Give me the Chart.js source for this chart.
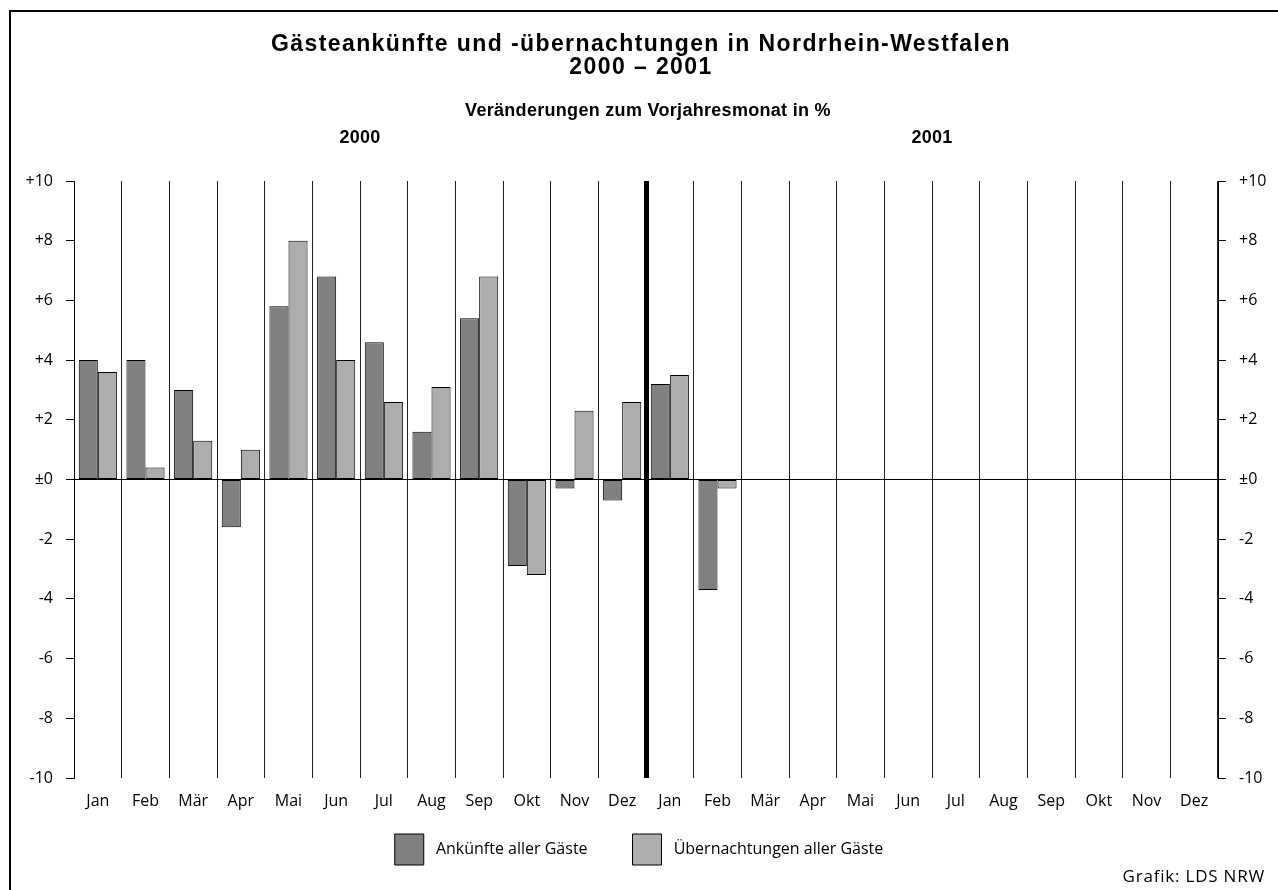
<!DOCTYPE html>
<html>
<head>
<meta charset="utf-8">
<script src="https://cdn.jsdelivr.net/npm/chart.js@4"></script>
<style>
  html, body { margin: 0; padding: 0; background: #fff; }
  #wrap { width: 1278px; height: 890px; position: relative; }
</style>
</head>
<body>
<div id="wrap"><canvas id="gaesteChart" width="1278" height="890"></canvas></div>
<script>
const months = ["Jan", "Feb", "Mär", "Apr", "Mai", "Jun", "Jul", "Aug", "Sep", "Okt", "Nov", "Dez",
                "Jan", "Feb", "Mär", "Apr", "Mai", "Jun", "Jul", "Aug", "Sep", "Okt", "Nov", "Dez"];
const years = ["2000", "2001"];
const ankuenfte = [4.0, 4.0, 3.0, -1.6, 5.8, 6.8, 4.6, 1.6, 5.4, -2.9, -0.3, -0.7,
                   3.2, -3.7, null, null, null, null, null, null, null, null, null, null];
const uebernachtungen = [3.6, 0.4, 1.3, 1.0, 8.0, 4.0, 2.6, 3.1, 6.8, -3.2, 2.3, 2.6,
                         3.5, -0.3, null, null, null, null, null, null, null, null, null, null];

const font = "'Open Sans', 'DejaVu Sans', sans-serif";
const boldFont = "'Liberation Sans', Arial, sans-serif";

function tickLabel(v) {
  if (v > 0) return "+" + v;
  if (v === 0) return "±0";
  return String(v);
}

// titles, year labels, frame and source note
const extras = {
  id: "extras",
  afterDraw(chart) {
    const ctx = chart.ctx;
    const x = chart.scales.x;
    ctx.save();
    ctx.strokeStyle = "#000";
    ctx.lineWidth = 2;
    ctx.strokeRect(10, 11, 1300, 1000);

    ctx.fillStyle = "#000";
    ctx.textAlign = "center";
    ctx.textBaseline = "middle";
    ctx.font = "bold 23px " + boldFont;
    ctx.letterSpacing = "1.4px";
    ctx.fillText("Gästeankünfte und -übernachtungen in Nordrhein-Westfalen", 641, 45);
    ctx.fillText("2000 – 2001", 641, 68);
    ctx.font = "bold 18px " + boldFont;
    ctx.letterSpacing = "0.3px";
    ctx.fillText("Veränderungen zum Vorjahresmonat in %", 648, 111);
    ctx.fillText(years[0], (x.getPixelForValue(5) + x.getPixelForValue(6)) / 2, 138);
    ctx.fillText(years[1], (x.getPixelForValue(17) + x.getPixelForValue(18)) / 2, 138);

    ctx.font = "17px " + font;
    ctx.letterSpacing = "0.8px";
    ctx.textAlign = "right";
    ctx.fillText("Grafik: LDS NRW", 1265, 877);
    ctx.restore();
  }
};

new Chart(document.getElementById("gaesteChart"), {
  type: "bar",
  data: {
    labels: months,
    datasets: [
      {
        label: "Ankünfte aller Gäste",
        data: ankuenfte,
        backgroundColor: "#808080",
        borderColor: "#000",
        borderWidth: 1,
        borderSkipped: false
      },
      {
        label: "Übernachtungen aller Gäste",
        data: uebernachtungen,
        backgroundColor: "#adadad",
        borderColor: "#000",
        borderWidth: 1,
        borderSkipped: false
      }
    ]
  },
  options: {
    responsive: false,
    animation: false,
    devicePixelRatio: 1,
    categoryPercentage: 0.8,
    barPercentage: 1.0,
    layout: { padding: { top: 181, left: 0, right: 0, bottom: 15 } },
    plugins: {
      title: { display: false },
      tooltip: { enabled: false },
      legend: {
        position: "bottom",
        labels: {
          color: "#000",
          font: { family: font, size: 16 },
          boxWidth: 29,
          boxHeight: 31,
          padding: 20,
          // a little extra room around the legend texts
          generateLabels: chart => Chart.defaults.plugins.legend.labels.generateLabels(chart)
            .map((item, i, all) => ({ ...item, text: " " + item.text + (i < all.length - 1 ? "      " : "") }))
        }
      }
    },
    scales: {
      x: {
        offset: true,
        grid: {
          offset: true,
          color: c => (c.index === 12 ? "#000" : "#222"),
          lineWidth: c => (c.index === 12 ? 5 : 1),
          drawTicks: false
        },
        border: { display: false },
        ticks: { color: "#000", font: { family: font, size: 16 }, padding: 14, maxRotation: 0, autoSkip: false },
        afterFit: s => { s.height = 36; }
      },
      y: {
        min: -10,
        max: 10,
        position: "left",
        ticks: { stepSize: 2, color: "#000", font: { family: font, size: 16 }, padding: 13, callback: tickLabel },
        grid: {
          color: c => (c.tick && c.tick.value === 0 ? "#000" : "rgba(0,0,0,0)"),
          tickColor: "#000",
          tickLength: 8,
          lineWidth: 1
        },
        border: { display: true, color: "#000", width: 1 },
        afterFit: s => { s.width = 74; }
      },
      y2: {
        min: -10,
        max: 10,
        position: "right",
        ticks: { stepSize: 2, color: "#000", font: { family: font, size: 16 }, padding: 13, callback: tickLabel },
        grid: { drawOnChartArea: false, tickColor: "#000", tickLength: 8 },
        border: { display: true, color: "#000", width: 1 },
        afterFit: s => { s.width = 60; }
      }
    }
  },
  plugins: [extras]
});
</script>
</body>
</html>
